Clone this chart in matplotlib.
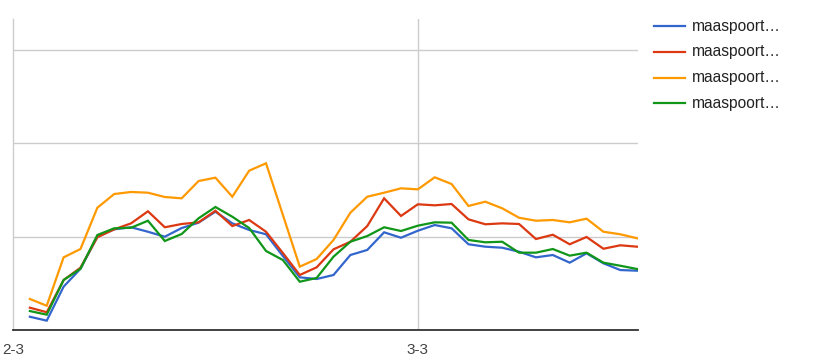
import matplotlib
matplotlib.use("Agg")
from matplotlib import pyplot as plt
from matplotlib.lines import Line2D

# hours since 2-3 00:00
hours = list(range(1, 38))

blue = [1.42, 1.00, 4.64, 6.56, 9.99, 10.78, 11.00, 10.52, 9.99, 10.92,
        11.49, 12.67, 11.42, 10.71, 10.25, 7.92, 5.64, 5.46, 5.89, 8.03,
        8.57, 10.46, 9.88, 10.63, 11.24, 10.89, 9.18, 8.92, 8.81, 8.38,
        7.78, 8.03, 7.21, 8.21, 7.14, 6.42, 6.35]
red = [2.39, 1.90, 5.35, 6.67, 9.93, 10.78, 11.42, 12.71, 11.00, 11.35,
       11.53, 12.77, 11.13, 11.78, 10.52, 8.24, 5.89, 6.71, 8.64, 9.45,
       11.13, 14.10, 12.21, 13.46, 13.35, 13.49, 11.85, 11.32, 11.42, 11.35,
       9.74, 10.20, 9.18, 9.96, 8.70, 9.07, 8.92]
orange = [3.32, 2.60, 7.78, 8.67, 13.09, 14.56, 14.78, 14.70, 14.24, 14.10,
          15.95, 16.31, 14.27, 17.06, 17.85, 12.31, 6.78, 7.60, 9.64, 12.56,
          14.27, 14.70, 15.17, 15.06, 16.35, 15.63, 13.28, 13.74, 13.03, 12.02,
          11.70, 11.78, 11.53, 11.92, 10.52, 10.25, 9.82]
green = [2.03, 1.64, 5.35, 6.56, 10.17, 10.89, 10.95, 11.70, 9.53, 10.28,
         11.96, 13.17, 12.13, 10.92, 8.46, 7.49, 5.17, 5.57, 7.85, 9.45,
         10.06, 11.00, 10.60, 11.17, 11.53, 11.49, 9.64, 9.39, 9.45, 8.28,
         8.28, 8.67, 7.96, 8.28, 7.21, 6.88, 6.53]

series = [blue, red, orange, green]
names = ["maaspoort\u2026"] * 4
colors = ["#3366cc", "#dc3912", "#ff9900", "#109618"]

tick_pos = [0, 24]
tick_labels = ["2-3", "3-3"]

plt.rcParams["font.family"] = ["Liberation Sans", "DejaVu Sans"]

fig = plt.figure(figsize=(8.16, 3.6), dpi=100)
ax = fig.add_axes([13 / 816, 30 / 360, 625 / 816, 311 / 360])

for ys, c in zip(series, colors):
    ax.plot(hours, ys, color=c, lw=1.6, solid_joinstyle="miter", zorder=3)

ax.set_xlim(0, 37.05)
ax.set_ylim(0, 33.3)

for g in [10, 20, 30]:
    ax.axhline(g, color="#cccccc", lw=1, zorder=1)
ax.axvline(24, color="#cccccc", lw=1, zorder=1)

for s in ["top", "right"]:
    ax.spines[s].set_visible(False)
ax.spines["left"].set_color("#cccccc")
ax.spines["left"].set_linewidth(1)
ax.spines["bottom"].set_color("#333333")
ax.spines["bottom"].set_linewidth(1.3)
ax.spines["bottom"].set_zorder(4)

ax.set_yticks([])
ax.set_xticks(tick_pos)
ax.set_xticklabels(tick_labels, fontsize=11, color="#444444")
ax.tick_params(axis="x", length=0, pad=9)
for lbl in ax.get_xticklabels():
    lbl.set_clip_on(False)

# legend on the right
for k, (n, c) in enumerate(zip(names, colors)):
    yy = 1 - (26 + 25.8 * k) / 360
    fig.add_artist(Line2D([654 / 816, 685 / 816], [yy, yy], color=c, lw=1.6,
                          transform=fig.transFigure))
    fig.text(692 / 816, yy, n, fontsize=11.2, color="#222222", va="center", ha="left")

plt.savefig("out.png", dpi=100)
